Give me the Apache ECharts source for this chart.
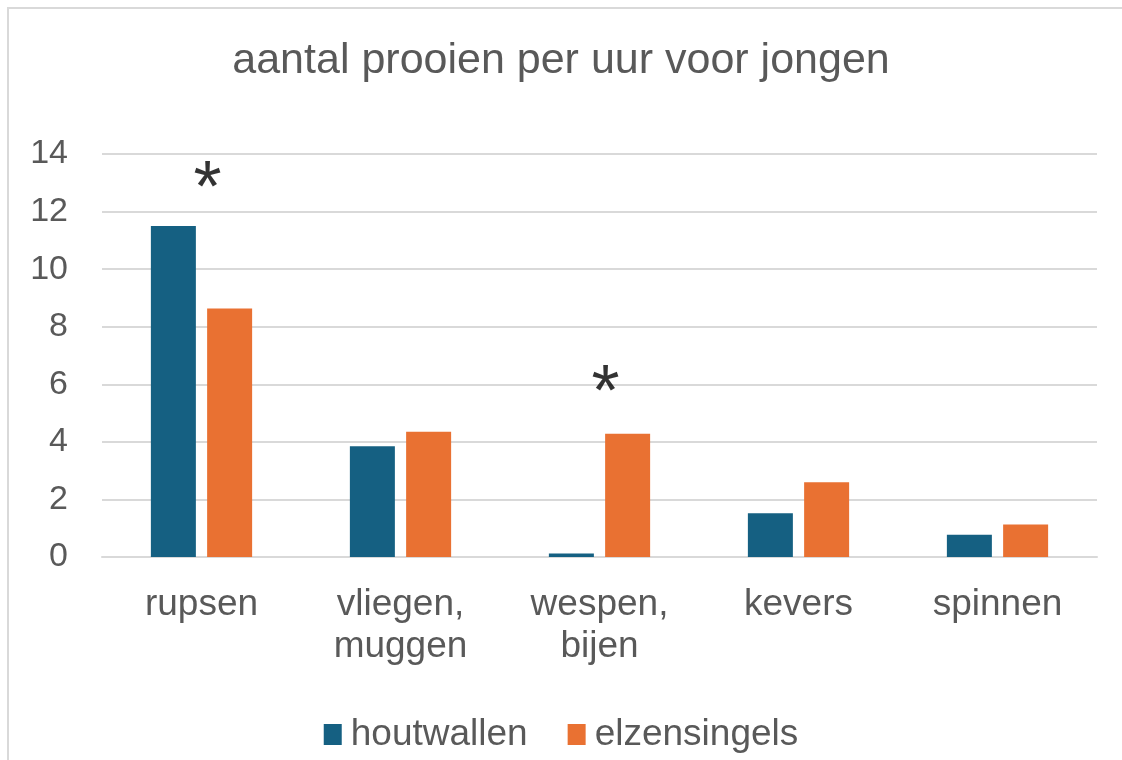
<!DOCTYPE html>
<html>
<head>
<meta charset="utf-8">
<script src="https://cdn.jsdelivr.net/npm/echarts@6/dist/echarts.min.js"></script>
<style>
  html, body { margin: 0; padding: 0; background: #fff; overflow: hidden; }
  #frame { position: absolute; left: 7px; top: 7px; width: 1140px; height: 780px; border: 2px solid #d9d9d9; box-sizing: border-box; }
  #chart { position: absolute; left: 0; top: 0; width: 1122px; height: 760px; }
</style>
</head>
<body>
<div id="frame"></div>
<div id="chart"></div>
<script>
const categories = ['rupsen', 'vliegen,\nmuggen', 'wespen,\nbijen', 'kevers', 'spinnen'];
const houtwallen = [11.5, 3.85, 0.12, 1.52, 0.77];
const elzensingels = [8.63, 4.35, 4.28, 2.6, 1.13];
// hoogte van de sterretjes (significant verschil)
const sterren = [13.2, null, 6.1, null, null];
const yTicks = { min: 0, max: 14, interval: 2 };

const textColor = '#595959';
const font = '"Liberation Sans", Arial, sans-serif';

const chart = echarts.init(document.getElementById('chart'));

const option = {
  backgroundColor: 'transparent',
  animation: false,
  title: {
    text: 'aantal prooien per uur voor jongen',
    left: 'center',
    top: 35,
    textStyle: { color: textColor, fontSize: 43, fontWeight: 'normal', fontFamily: font }
  },
  legend: {
    data: ['houtwallen', 'elzensingels'],
    bottom: 2,
    left: 'center',
    icon: 'rect',
    itemWidth: 18,
    itemHeight: 21,
    itemGap: 40,
    textStyle: { color: textColor, fontSize: 37, fontFamily: font, padding: [0, 0, 0, 4] }
  },
  grid: { left: 102, right: 25, top: 154, bottom: 203 },
  xAxis: {
    type: 'category',
    data: categories,
    axisLine: { lineStyle: { color: '#d9d9d9', width: 2 } },
    axisTick: { show: false },
    axisLabel: {
      color: textColor, fontSize: 37, fontFamily: font,
      margin: 27, lineHeight: 42, interval: 0
    }
  },
  yAxis: {
    type: 'value',
    min: yTicks.min,
    max: yTicks.max,
    interval: yTicks.interval,
    axisLine: { show: false },
    axisTick: { show: false },
    splitLine: { lineStyle: { color: '#d9d9d9', width: 2 } },
    axisLabel: { color: textColor, fontSize: 34, fontFamily: font, margin: 34, padding: [10, 0, 0, 0] }
  },
  series: [
    {
      name: 'houtwallen',
      type: 'bar',
      data: houtwallen,
      barWidth: 45,
      barGap: '25%',
      itemStyle: { color: '#156082' }
    },
    {
      name: 'elzensingels',
      type: 'bar',
      data: elzensingels,
      barWidth: 45,
      itemStyle: { color: '#E97132' }
    },
    {
      name: 'significant',
      type: 'scatter',
      data: sterren,
      symbolSize: 0,
      silent: true,
      label: {
        show: true,
        position: 'inside',
        formatter: '*',
        color: '#000',
        fontSize: 72,
        fontFamily: font,
        offset: [6, 14]
      }
    }
  ]
};

chart.setOption(option);
</script>
</body>
</html>
